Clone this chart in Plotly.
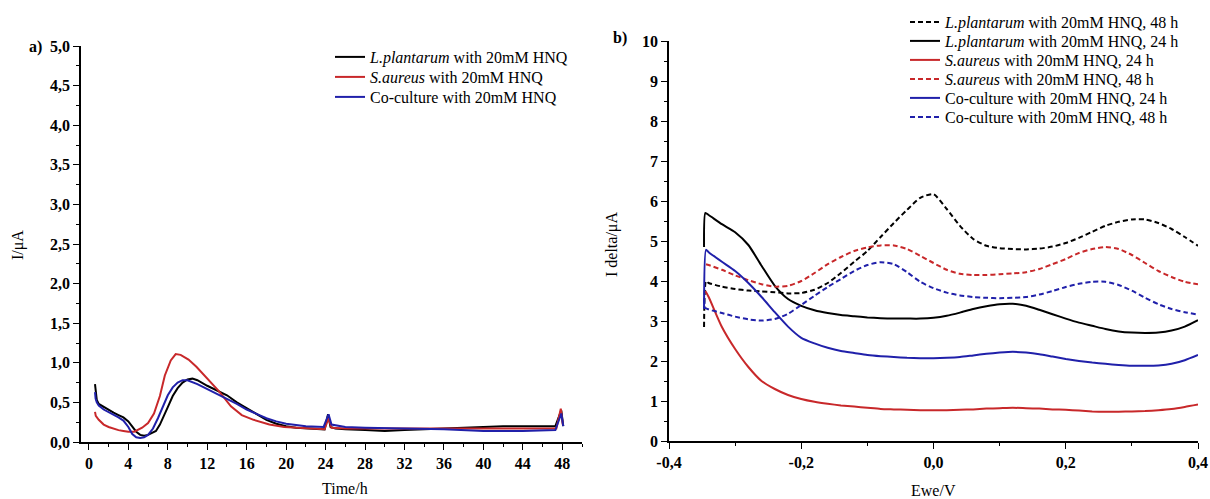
import plotly.graph_objects as go

# ---------------- Panel a) : current vs time ----------------
T_LP = [0.62, 0.68, 0.8, 1.0, 1.5, 2.0, 2.5, 3.0, 3.5, 4.0, 4.4, 4.8, 5.2, 5.6, 6.0, 6.4, 6.8, 7.2, 7.6, 8.0,
        8.5, 9.0, 9.5, 10.0, 10.5, 11.0, 12.0, 13.0, 14.0, 15.0, 16.0, 17.0, 18.0, 19.0, 20.0, 21.0, 22.0, 23.0,
        23.9, 24.25, 24.5, 25.0, 26.0, 28.0, 30.0, 32.0, 34.0, 36.0, 38.0, 40.0, 42.0, 44.0, 46.0, 47.3, 47.9, 48.1]
I_LP = [0.73, 0.62, 0.53, 0.48, 0.44, 0.41, 0.37, 0.34, 0.31, 0.26, 0.19, 0.13, 0.09, 0.08, 0.09, 0.11, 0.14, 0.22,
        0.32, 0.44, 0.58, 0.68, 0.75, 0.79, 0.80, 0.78, 0.71, 0.65, 0.59, 0.50, 0.43, 0.35, 0.28, 0.23, 0.20, 0.18,
        0.17, 0.165, 0.16, 0.35, 0.19, 0.17, 0.16, 0.15, 0.14, 0.15, 0.16, 0.17, 0.18, 0.19, 0.20, 0.20, 0.20, 0.20,
        0.40, 0.20]

T_SA = [0.62, 0.7, 1.0, 1.5, 2.0, 2.5, 3.0, 3.5, 4.0, 4.6, 5.0, 5.4, 6.0, 6.6, 7.2, 7.7, 8.3, 8.8, 9.3, 10.1,
        10.9, 12.0, 13.2, 14.4, 15.5, 16.7, 18.3, 19.8, 22.0, 23.9, 24.3, 24.6, 26.0, 28.0, 32.0, 36.0, 40.0, 44.0,
        47.4, 47.85, 48.05]
I_SA = [0.38, 0.33, 0.28, 0.22, 0.19, 0.17, 0.15, 0.14, 0.13, 0.13, 0.15, 0.18, 0.24, 0.36, 0.58, 0.84, 1.03, 1.11,
        1.10, 1.04, 0.95, 0.80, 0.64, 0.45, 0.34, 0.28, 0.22, 0.19, 0.17, 0.16, 0.30, 0.18, 0.17, 0.17, 0.17, 0.17,
        0.17, 0.17, 0.17, 0.42, 0.22]

T_CC = [0.62, 0.68, 0.8, 1.0, 1.5, 2.0, 2.5, 3.0, 3.5, 4.0, 4.4, 4.8, 5.2, 5.6, 6.0, 6.5, 7.0, 7.5, 8.0, 8.5,
        9.0, 9.5, 10.0, 11.0, 12.0, 13.0, 14.0, 15.0, 16.0, 17.0, 18.0, 19.0, 20.0, 22.0, 23.8, 24.3, 24.6, 26.0,
        28.0, 32.0, 36.0, 40.0, 44.0, 47.3, 47.9, 48.1]
I_CC = [0.63, 0.55, 0.50, 0.46, 0.41, 0.38, 0.34, 0.31, 0.27, 0.19, 0.10, 0.06, 0.05, 0.06, 0.09, 0.17, 0.30, 0.45,
        0.59, 0.69, 0.75, 0.78, 0.78, 0.73, 0.67, 0.61, 0.55, 0.48, 0.41, 0.35, 0.30, 0.26, 0.23, 0.20, 0.19, 0.35,
        0.22, 0.19, 0.18, 0.17, 0.16, 0.14, 0.14, 0.15, 0.36, 0.20]

NAMES_A = ["<i>L.plantarum</i> with 20mM HNQ", "<i>S.aureus</i> with 20mM HNQ", "Co-culture with 20mM HNQ"]

# ---------------- Panel b) : I delta vs Ewe ----------------
V_GRID = [-0.34, -0.32, -0.30, -0.28, -0.26, -0.24, -0.22, -0.20, -0.18, -0.16, -0.14, -0.12, -0.10, -0.08,
          -0.06, -0.04, -0.02, 0.00, 0.02, 0.04, 0.06, 0.08, 0.10, 0.12, 0.14, 0.16, 0.18, 0.20, 0.22, 0.24,
          0.26, 0.28, 0.30, 0.32, 0.34, 0.36, 0.38, 0.40]

V0_LP48 = [-0.347, -0.344]
I0_LP48 = [2.85, 4.00]
I_LP48 = [3.95, 3.86, 3.80, 3.76, 3.74, 3.72, 3.69, 3.70, 3.78, 3.95, 4.20, 4.48, 4.75, 5.10, 5.45, 5.78, 6.08,
          6.17, 5.80, 5.38, 5.05, 4.88, 4.82, 4.80, 4.79, 4.81, 4.86, 4.95, 5.08, 5.23, 5.38, 5.48, 5.54, 5.54,
          5.45, 5.30, 5.10, 4.88]

V0_LP24 = [-0.347, -0.345]
I0_LP24 = [4.85, 5.70]
I_LP24 = [5.65, 5.42, 5.22, 4.90, 4.38, 3.88, 3.55, 3.38, 3.27, 3.20, 3.15, 3.12, 3.09, 3.07, 3.06, 3.06, 3.06,
          3.08, 3.13, 3.21, 3.30, 3.37, 3.42, 3.43, 3.38, 3.28, 3.17, 3.06, 2.96, 2.88, 2.80, 2.74, 2.71, 2.70,
          2.71, 2.76, 2.86, 3.02]

V0_SA24 = [-0.345]
I0_SA24 = [3.75]
I_SA24 = [3.60, 2.85, 2.30, 1.85, 1.50, 1.30, 1.15, 1.05, 0.98, 0.93, 0.89, 0.86, 0.83, 0.80, 0.79, 0.78, 0.77,
          0.77, 0.77, 0.78, 0.79, 0.81, 0.82, 0.83, 0.82, 0.81, 0.79, 0.78, 0.76, 0.74, 0.73, 0.73, 0.74, 0.75,
          0.77, 0.80, 0.85, 0.91]

V0_SA48 = [-0.344]
I0_SA48 = [4.42]
I_SA48 = [4.40, 4.28, 4.14, 4.02, 3.92, 3.86, 3.88, 4.00, 4.20, 4.42, 4.60, 4.75, 4.84, 4.89, 4.89, 4.80, 4.63,
          4.45, 4.28, 4.18, 4.15, 4.15, 4.17, 4.19, 4.22, 4.30, 4.42, 4.55, 4.70, 4.80, 4.85, 4.80, 4.65, 4.45,
          4.25, 4.10, 3.98, 3.92]

V0_CC24 = [-0.347, -0.344]
I0_CC24 = [3.30, 4.78]
I_CC24 = [4.72, 4.48, 4.25, 3.95, 3.60, 3.22, 2.86, 2.58, 2.44, 2.33, 2.25, 2.20, 2.15, 2.12, 2.10, 2.08, 2.07,
          2.07, 2.08, 2.10, 2.14, 2.18, 2.21, 2.23, 2.21, 2.17, 2.11, 2.05, 2.00, 1.96, 1.93, 1.90, 1.88, 1.88,
          1.89, 1.93, 2.02, 2.15]

V0_CC48 = [-0.347, -0.345]
I0_CC48 = [3.55, 3.33]
I_CC48 = [3.29, 3.20, 3.11, 3.04, 3.01, 3.05, 3.18, 3.40, 3.63, 3.85, 4.05, 4.25, 4.40, 4.47, 4.42, 4.22, 3.98,
          3.82, 3.71, 3.64, 3.60, 3.58, 3.57, 3.58, 3.60, 3.66, 3.75, 3.85, 3.93, 3.98, 3.98, 3.90, 3.76, 3.58,
          3.42, 3.30, 3.22, 3.16]

NAMES_B = ["<i>L.plantarum</i> with 20mM HNQ, 48 h", "<i>L.plantarum</i> with 20mM HNQ, 24 h",
           "<i>S.aureus</i> with 20mM HNQ, 24 h", "<i>S.aureus</i> with 20mM HNQ, 48 h",
           "Co-culture with 20mM HNQ, 24 h", "Co-culture with 20mM HNQ, 48 h"]

X_R_TICKS = [-0.4, -0.2, 0.0, 0.2, 0.4]
X_R_LABELS = ["-0,4", "-0,2", "0,0", "0,2", "0,4"]

BLACK = "#000000"
RED = "#c8282a"
BLUE = "#2020aa"
FONT = "Liberation Serif"
W, H = 1210, 499
DASH = "5px,3px"

def px_x(p):
    return p / W

def px_y(p):
    return (H - p) / H

# legend row placement (pixels): one legend per entry so rows can be spaced like the original
LEG_A_X, LEG_A_ROWS = 330, [57, 77, 97]
LEG_B_X, LEG_B_ROWS = 905, [22, 41, 60, 79, 98, 117]

fig = go.Figure()

legend_layouts = {}
k = 0
for (t, i, c), n, row in zip([(T_LP, I_LP, BLACK), (T_SA, I_SA, RED), (T_CC, I_CC, BLUE)], NAMES_A, LEG_A_ROWS):
    k += 1
    lname = "legend" if k == 1 else f"legend{k}"
    fig.add_trace(go.Scatter(x=t, y=i, mode="lines", name=n, line=dict(color=c, width=2),
                             xaxis="x", yaxis="y", legend=lname))
    legend_layouts[lname] = dict(x=px_x(LEG_A_X), y=px_y(row), xanchor="left", yanchor="middle",
                                 bgcolor="rgba(0,0,0,0)", font=dict(family=FONT, size=16, color="black"),
                                 itemwidth=30, borderwidth=0)

series_b = [
    (V0_LP48, I0_LP48, I_LP48, BLACK, DASH),
    (V0_LP24, I0_LP24, I_LP24, BLACK, "solid"),
    (V0_SA24, I0_SA24, I_SA24, RED, "solid"),
    (V0_SA48, I0_SA48, I_SA48, RED, DASH),
    (V0_CC24, I0_CC24, I_CC24, BLUE, "solid"),
    (V0_CC48, I0_CC48, I_CC48, BLUE, DASH),
]
for (v0, i0, iv, c, d), n, row in zip(series_b, NAMES_B, LEG_B_ROWS):
    k += 1
    lname = f"legend{k}"
    fig.add_trace(go.Scatter(x=v0 + V_GRID, y=i0 + iv, mode="lines", name=n,
                             line=dict(color=c, width=2, dash=d, shape="spline", smoothing=0.6),
                             xaxis="x2", yaxis="y2", legend=lname))
    legend_layouts[lname] = dict(x=px_x(LEG_B_X), y=px_y(row), xanchor="left", yanchor="middle",
                                 bgcolor="rgba(0,0,0,0)", font=dict(family=FONT, size=16, color="black"),
                                 itemwidth=30, borderwidth=0)

axis_common = dict(showgrid=False, zeroline=False, showline=True, linecolor="black", linewidth=1.5,
                   ticks="outside", ticklen=6, tickwidth=1.2, tickcolor="black", automargin=False,
                   tickfont=dict(family=FONT, size=16, color="black", weight="bold"))

fig.update_layout(
    width=W, height=H, margin=dict(l=0, r=0, t=0, b=0, autoexpand=False),
    paper_bgcolor="white", plot_bgcolor="white",
    separators=", ",
    font=dict(family=FONT, size=16, color="black"),
    xaxis=dict(domain=[px_x(81), px_x(582)], range=[-0.8, 50], tick0=0, dtick=4, anchor="y",
               minor=dict(dtick=2, tick0=0, ticks="outside", ticklen=3, tickcolor="black"), **axis_common),
    yaxis=dict(domain=[px_y(442), px_y(46)], range=[0, 5], tick0=0, dtick=0.5, tickformat=".1f", anchor="x",
               minor=dict(dtick=0.25, tick0=0, ticks="outside", ticklen=3, tickcolor="black"), **axis_common),
    xaxis2=dict(domain=[px_x(669), px_x(1198)], range=[-0.4, 0.4], tickmode="array", tickvals=X_R_TICKS,
                ticktext=X_R_LABELS, anchor="y2",
                minor=dict(tickmode="linear", dtick=0.1, tick0=-0.4, ticks="outside", ticklen=3, tickcolor="black"),
                **axis_common),
    yaxis2=dict(domain=[px_y(441), px_y(41)], range=[0, 10], tick0=0, dtick=1, anchor="x2",
                minor=dict(dtick=0.5, tick0=0, ticks="outside", ticklen=3, tickcolor="black"), **axis_common),
    showlegend=True,
    **legend_layouts,
)

annos = [
    dict(text="<b>a)</b>", x=px_x(35), y=px_y(47)),
    dict(text="<b>b)</b>", x=px_x(620), y=px_y(38)),
    dict(text="I/μA", x=px_x(18), y=px_y(245), textangle=-90),
    dict(text="Time/h", x=px_x(345), y=px_y(488)),
    dict(text="I delta/μA", x=px_x(612), y=px_y(245), textangle=-90),
    dict(text="Ewe/V", x=px_x(933), y=px_y(490)),
]
for a in annos:
    fig.add_annotation(xref="paper", yref="paper", showarrow=False, xanchor="center", yanchor="middle",
                       font=dict(family=FONT, size=16, color="black"), **a)

fig.write_html("out.html")
